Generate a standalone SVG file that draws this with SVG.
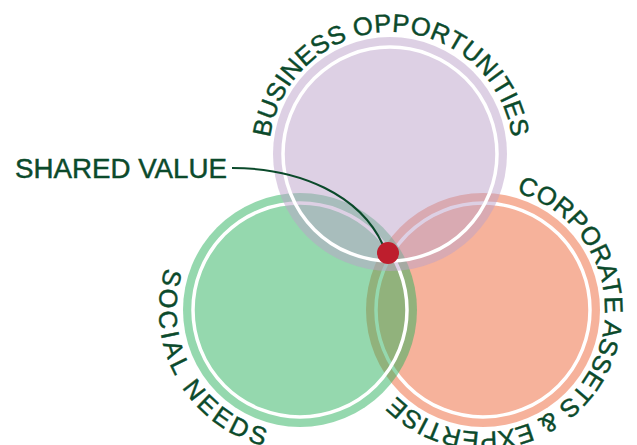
<svg xmlns="http://www.w3.org/2000/svg" width="637" height="445" viewBox="0 0 637 445">
  <style>
    .fill { stroke: none; fill-opacity: 0.5; }
    .ring { fill: none; stroke: #ffffff; stroke-width: 3.5; }
    .arc-label { font-family: "Liberation Sans", Arial, sans-serif; font-size: 25.5px; fill: #0B4A2B; stroke: #0B4A2B; stroke-width: 0.45; }
    .label { font-family: "Liberation Sans", Arial, sans-serif; font-size: 27px; fill: #0B4A2B; stroke: #0B4A2B; stroke-width: 0.45; }
    .leader { fill: none; stroke: #0B4A2B; stroke-width: 2; }
  </style>
  <defs>
    <path id="arc-business" d="M285.34,215 A122,122 0 1 1 496.66,215"/>
    <path id="arc-corporate" d="M484.3,188 A122,122 0 1 1 376.7,369.9"/>
    <path id="arc-social" d="M252.93,177.1 A141,141 0 1 0 389.7,418.8"/>
  </defs>
  <rect width="637" height="445" fill="#ffffff"/>

  <g id="node-corporate-assets">
    <circle class="fill" cx="483" cy="310" r="117" fill="#ED6537"/>
    <circle class="ring" cx="483" cy="310" r="107"/>
    <text class="arc-label" letter-spacing="0.2"><textPath href="#arc-corporate" startOffset="50%" text-anchor="middle">CORPORATE ASSETS &amp; EXPERTISE</textPath></text>
  </g>

  <g id="node-social-needs">
    <circle class="fill" cx="300" cy="310" r="117" fill="#2BB15D"/>
    <circle class="ring" cx="300" cy="310" r="107"/>
    <text class="arc-label" letter-spacing="3.6"><textPath href="#arc-social" startOffset="50%" text-anchor="middle">SOCIAL NEEDS</textPath></text>
  </g>

  <g id="node-business-opportunities">
    <circle class="fill" cx="390" cy="154" r="117" fill="#BBA1C9"/>
    <circle class="ring" cx="390" cy="154" r="107"/>
    <text class="arc-label" letter-spacing="0.3"><textPath href="#arc-business" startOffset="50%" text-anchor="middle">BUSINESS OPPORTUNITIES</textPath></text>
  </g>

  <g id="connectors">
    <path class="leader" d="M232,168 C300,168 360,195 383,245"/>
  </g>

  <g id="node-shared-value">
    <text class="label" x="15" y="178" textLength="212" lengthAdjust="spacingAndGlyphs">SHARED VALUE</text>
    <circle cx="388" cy="253" r="11" fill="#BE1E2D"/>
  </g>
</svg>
